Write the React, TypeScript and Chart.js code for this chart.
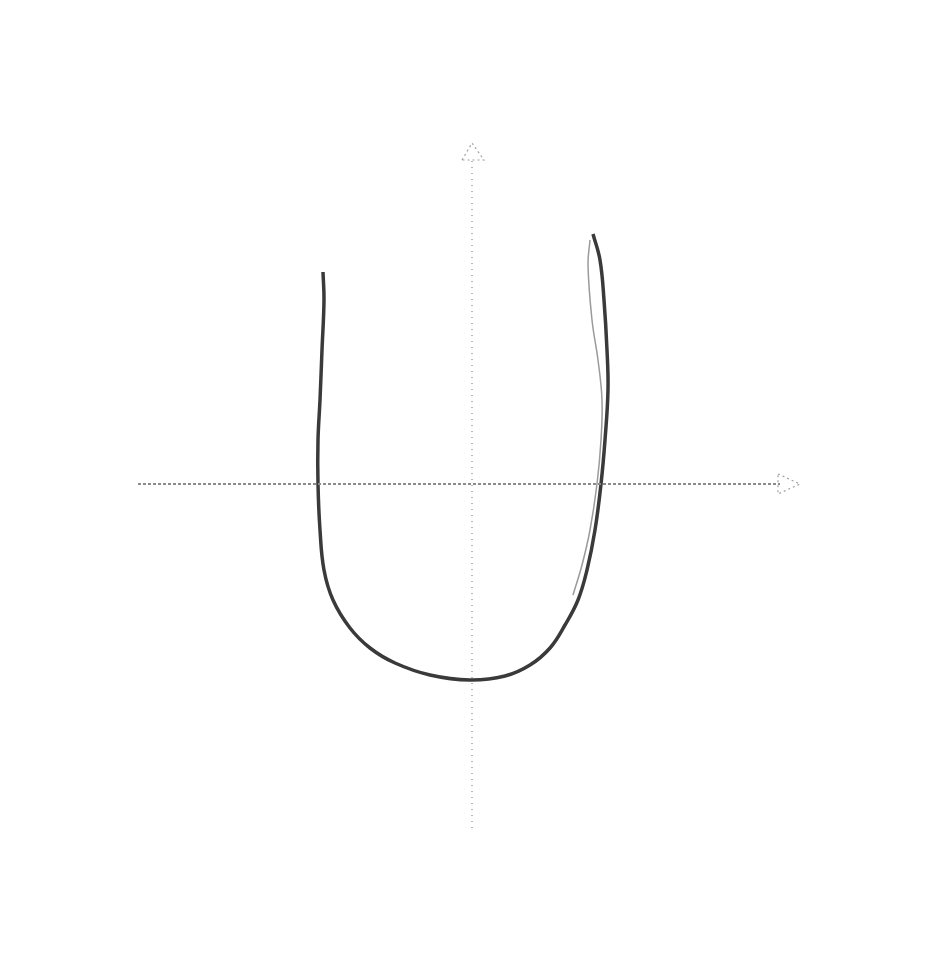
import React, { useEffect, useRef } from "react";
import { Chart, registerables } from "chart.js";

Chart.register(...registerables);

// Main U-shaped curve (hand-drawn stroke)
const curveX = [-3.725, -3.7, -3.75, -3.8, -3.85, -3.85, -3.8, -3.7, -3.475, -3.05, -2.55, -1.925, -1.05, -0.05, 0.825, 1.45, 1.95, 2.325, 2.65, 2.875, 3.075, 3.225, 3.325, 3.4, 3.375, 3.3, 3.2, 3.025];
const curveY = [5.3, 4.6, 3.35, 2.1, 1.1, 0, -1.15, -2.15, -2.9, -3.6, -4.1, -4.475, -4.775, -4.9, -4.8, -4.525, -4.1, -3.525, -2.9, -2.15, -1.15, 0, 1.1, 2.35, 3.35, 4.6, 5.6, 6.25];

// Faint second stroke on the right side
const strandX = [2.95, 2.9, 3.0, 3.15, 3.25, 3.225, 3.125, 2.95, 2.75, 2.525];
const strandY = [6.1, 5.475, 4.1, 3.1, 2.1, 1.1, 0, -1.15, -2.025, -2.775];

// Axes
const xAxisX = [-8.35, 7.7];
const xAxisY = [0, 0];
const yAxisX = [0, 0];
const yAxisY = [-8.6, 8.1];

// Arrow heads
const xArrowX = [7.65, 8.2, 7.65, 7.65];
const xArrowY = [0.25, 0, -0.25, 0.25];
const yArrowX = [-0.25, 0, 0.3, -0.25];
const yArrowY = [8.1, 8.525, 8.1, 8.1];

const zip = (xs: number[], ys: number[]) => xs.map((x, i) => ({ x, y: ys[i] }));

export default function App() {
  const ref = useRef<HTMLCanvasElement | null>(null);
  useEffect(() => {
    if (!ref.current) return;
    const chart = new Chart(ref.current, {
      type: "scatter",
      data: {
        datasets: [
          { data: zip(xAxisX, xAxisY), showLine: true, borderColor: "#8a8a8a", borderWidth: 2, borderDash: [3, 2], pointRadius: 0, tension: 0 },
          { data: zip(yAxisX, yAxisY), showLine: true, borderColor: "#a0a0a0", borderWidth: 1.5, borderDash: [1, 5], pointRadius: 0, tension: 0 },
          { data: zip(xArrowX, xArrowY), showLine: true, borderColor: "#a0a0a0", borderWidth: 1.2, borderDash: [2, 3], pointRadius: 0, tension: 0 },
          { data: zip(yArrowX, yArrowY), showLine: true, borderColor: "#a0a0a0", borderWidth: 1.2, borderDash: [2, 3], pointRadius: 0, tension: 0 },
          { data: zip(strandX, strandY), showLine: true, borderColor: "#9a9a9a", borderWidth: 1.5, pointRadius: 0, tension: 0.4 },
          { data: zip(curveX, curveY), showLine: true, borderColor: "#3a3a3a", borderWidth: 3.5, pointRadius: 0, tension: 0.4 },
        ],
      },
      options: {
        animation: false,
        responsive: false,
        layout: { padding: 0 },
        plugins: { legend: { display: false }, tooltip: { enabled: false } },
        scales: {
          x: { type: "linear", min: -11.8, max: 11.75, display: false },
          y: { type: "linear", min: -11.925, max: 12.1, display: false },
        },
      },
    });
    return () => chart.destroy();
  }, []);
  return (
    <div style={{ position: "absolute", left: 0, top: 0, width: 942, height: 961, background: "#fff" }}>
      <canvas ref={ref} width={942} height={961} style={{ display: "block", width: 942, height: 961 }} />
    </div>
  );
}
